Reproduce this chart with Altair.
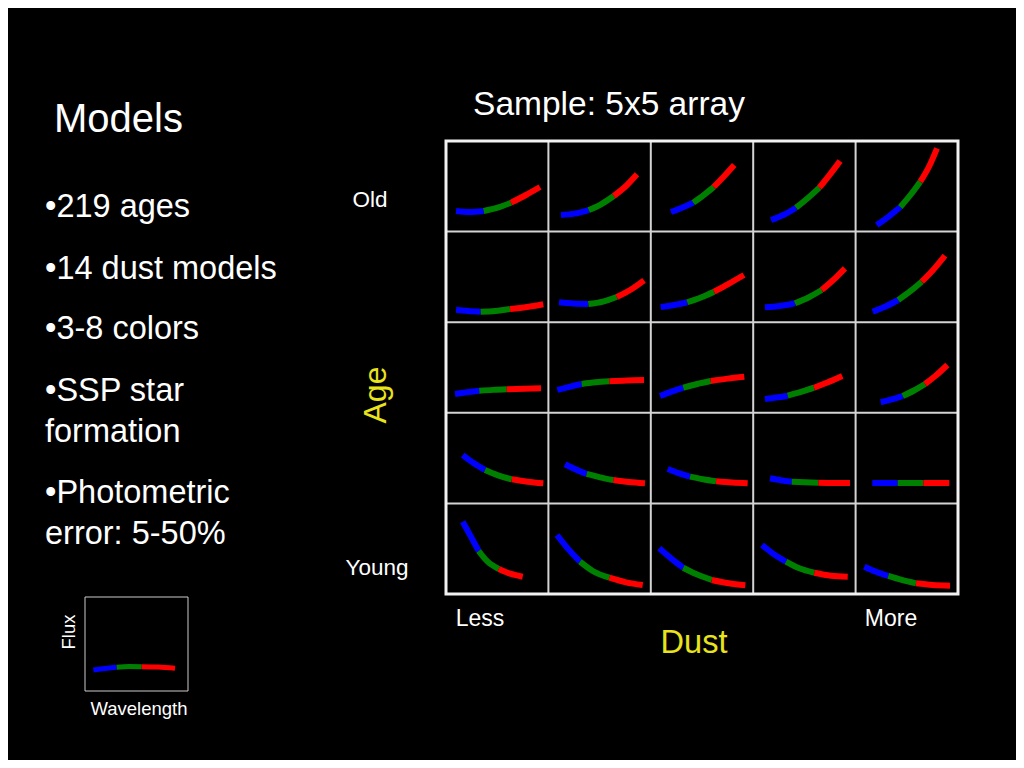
import altair as alt
import pandas as pd

# ---------------- data ----------------
age_labels = ["Old", "Young"]
dust_labels = ["Less", "More"]
bands = ["blue", "green", "red"]
band_colors = ["#0000ff", "#008000", "#ff0000"]
band_points = [[0, 1, 2], [2, 3, 4], [4, 5, 6]]

title_text = "Models"
sample_text = "Sample: 5x5 array"
bullet_lines = ["•219 ages", "•14 dust models", "•3-8 colors", "•SSP star", "formation",
                "•Photometric", "error: 5-50%"]

# wavelength (0-1 across a cell) and flux (0-1 up a cell), 7 samples per curve
wave_old = [
    [0.098, 0.228, 0.368, 0.505, 0.635, 0.781, 0.918],
    [0.123, 0.253, 0.394, 0.514, 0.638, 0.758, 0.865],
    [0.197, 0.305, 0.415, 0.513, 0.614, 0.718, 0.815],
    [0.174, 0.294, 0.418, 0.532, 0.646, 0.750, 0.848],
    [0.206, 0.329, 0.437, 0.541, 0.632, 0.720, 0.795],
]
flux_old = [
    [0.227, 0.216, 0.227, 0.264, 0.319, 0.404, 0.492],
    [0.183, 0.198, 0.238, 0.301, 0.393, 0.503, 0.632],
    [0.216, 0.264, 0.319, 0.401, 0.492, 0.614, 0.735],
    [0.128, 0.183, 0.264, 0.368, 0.485, 0.632, 0.779],
    [0.073, 0.172, 0.272, 0.412, 0.551, 0.724, 0.919],
]
wave_age2 = [
    [0.098, 0.215, 0.339, 0.479, 0.625, 0.791, 0.950],
    [0.104, 0.245, 0.390, 0.533, 0.667, 0.807, 0.934],
    [0.097, 0.227, 0.356, 0.490, 0.617, 0.764, 0.910],
    [0.115, 0.262, 0.408, 0.540, 0.669, 0.784, 0.896],
    [0.167, 0.292, 0.417, 0.531, 0.646, 0.761, 0.873],
]
flux_age2 = [
    [0.138, 0.124, 0.116, 0.124, 0.146, 0.168, 0.198],
    [0.220, 0.206, 0.201, 0.228, 0.278, 0.361, 0.462],
    [0.168, 0.190, 0.220, 0.273, 0.337, 0.427, 0.521],
    [0.164, 0.179, 0.209, 0.273, 0.355, 0.468, 0.595],
    [0.116, 0.173, 0.245, 0.339, 0.447, 0.582, 0.734],
]
wave_age3 = [
    [0.088, 0.205, 0.325, 0.459, 0.593, 0.762, 0.928],
    [0.087, 0.206, 0.325, 0.460, 0.595, 0.763, 0.934],
    [0.090, 0.202, 0.317, 0.451, 0.585, 0.749, 0.913],
    [0.115, 0.226, 0.337, 0.467, 0.594, 0.730, 0.870],
    [0.245, 0.353, 0.460, 0.570, 0.678, 0.790, 0.896],
]
flux_age3 = [
    [0.208, 0.227, 0.244, 0.253, 0.259, 0.266, 0.270],
    [0.252, 0.287, 0.318, 0.336, 0.348, 0.357, 0.362],
    [0.185, 0.233, 0.277, 0.318, 0.351, 0.377, 0.398],
    [0.152, 0.168, 0.189, 0.230, 0.277, 0.337, 0.406],
    [0.116, 0.147, 0.185, 0.246, 0.318, 0.417, 0.528],
]
wave_age4 = [
    [0.163, 0.269, 0.381, 0.508, 0.642, 0.796, 0.950],
    [0.162, 0.268, 0.374, 0.504, 0.634, 0.787, 0.943],
    [0.165, 0.273, 0.383, 0.510, 0.637, 0.793, 0.946],
    [0.164, 0.270, 0.376, 0.506, 0.636, 0.789, 0.945],
    [0.163, 0.287, 0.411, 0.536, 0.661, 0.788, 0.915],
]
flux_age4 = [
    [0.534, 0.446, 0.369, 0.310, 0.266, 0.240, 0.222],
    [0.432, 0.374, 0.325, 0.288, 0.258, 0.236, 0.222],
    [0.380, 0.334, 0.295, 0.266, 0.244, 0.231, 0.222],
    [0.277, 0.256, 0.240, 0.233, 0.228, 0.225, 0.225],
    [0.225, 0.225, 0.225, 0.225, 0.225, 0.225, 0.225],
]
wave_young = [
    [0.163, 0.244, 0.319, 0.407, 0.515, 0.635, 0.749],
    [0.084, 0.188, 0.309, 0.433, 0.595, 0.758, 0.921],
    [0.083, 0.197, 0.317, 0.448, 0.595, 0.761, 0.923],
    [0.086, 0.190, 0.320, 0.450, 0.597, 0.760, 0.923],
    [0.085, 0.199, 0.319, 0.450, 0.590, 0.753, 0.922],
]
flux_young = [
    [0.798, 0.632, 0.475, 0.357, 0.276, 0.221, 0.191],
    [0.651, 0.504, 0.357, 0.254, 0.180, 0.129, 0.099],
    [0.504, 0.394, 0.290, 0.217, 0.155, 0.118, 0.096],
    [0.541, 0.449, 0.357, 0.284, 0.235, 0.202, 0.191],
    [0.301, 0.246, 0.199, 0.155, 0.118, 0.099, 0.092],
]
legend_wave = [0.081, 0.194, 0.308, 0.427, 0.550, 0.709, 0.874]
legend_flux = [0.223, 0.239, 0.252, 0.261, 0.259, 0.255, 0.241]

grid_inner = [1, 2, 3, 4]

# ---------------- build tables ----------------
wave_rows = [wave_old, wave_age2, wave_age3, wave_age4, wave_young]
flux_rows = [flux_old, flux_age2, flux_age3, flux_age4, flux_young]

recs = []
for r in range(5):
    for c in range(5):
        w = wave_rows[r][c]
        f = flux_rows[r][c]
        for b, idxs in zip(bands, band_points):
            for i in idxs:
                recs.append({"series": f"{r}-{c}-{b}", "band": b, "i": i,
                             "wl": c + w[i], "flux": (4 - r) + f[i]})
curves = pd.DataFrame(recs)

lrecs = []
for b, idxs in zip(bands, band_points):
    for i in idxs:
        lrecs.append({"series": b, "band": b, "i": i, "wl": legend_wave[i], "flux": legend_flux[i]})
legend_curve = pd.DataFrame(lrecs)

vlines = pd.DataFrame({"pos": grid_inner, "lo": 0, "hi": 5})
frame = pd.DataFrame({"x0": [0], "x1": [5], "y0": [0], "y1": [5]})
lframe = pd.DataFrame({"x0": [0], "x1": [1], "y0": [0], "y1": [1]})

# ---------------- scales ----------------
M = 8  # page margin
gx = alt.Scale(domain=[0, 5], range=[446 - M, 958 - M], nice=False, zero=False)
gy = alt.Scale(domain=[0, 5], range=[594 - M, 141 - M], nice=False, zero=False)
lx = alt.Scale(domain=[0, 1], range=[85 - M, 188 - M], nice=False, zero=False)
ly = alt.Scale(domain=[0, 1], range=[691 - M, 597 - M], nice=False, zero=False)
cscale = alt.Scale(domain=bands, range=band_colors)

FONT = "Liberation Sans"
WHITE = "#ffffff"
YELLOW = "#e8e31c"

inner_v = alt.Chart(vlines).mark_rule(color="#d4d4d4", strokeWidth=2).encode(
    x=alt.X("pos:Q", scale=gx, axis=None),
    y=alt.Y("lo:Q", scale=gy, axis=None),
    y2="hi:Q",
)
inner_h = alt.Chart(vlines).mark_rule(color="#d4d4d4", strokeWidth=2).encode(
    y=alt.Y("pos:Q", scale=gy, axis=None),
    x=alt.X("lo:Q", scale=gx, axis=None),
    x2="hi:Q",
)
outer = alt.Chart(frame).mark_rect(fill=None, stroke="#f2f2f2", strokeWidth=3).encode(
    x=alt.X("x0:Q", scale=gx, axis=None), x2="x1:Q",
    y=alt.Y("y0:Q", scale=gy, axis=None), y2="y1:Q",
)
lines = alt.Chart(curves).mark_line(strokeWidth=6, strokeCap="butt", interpolate="monotone").encode(
    x=alt.X("wl:Q", scale=gx, axis=None),
    y=alt.Y("flux:Q", scale=gy, axis=None),
    detail="series:N",
    order="i:Q",
    color=alt.Color("band:N", scale=cscale, legend=None),
)

lbox = alt.Chart(lframe).mark_rect(fill=None, stroke="#cccccc", strokeWidth=1).encode(
    x=alt.X("x0:Q", scale=lx, axis=None), x2="x1:Q",
    y=alt.Y("y0:Q", scale=ly, axis=None), y2="y1:Q",
)
llines = alt.Chart(legend_curve).mark_line(strokeWidth=5, strokeCap="butt", interpolate="monotone").encode(
    x=alt.X("wl:Q", scale=lx, axis=None),
    y=alt.Y("flux:Q", scale=ly, axis=None),
    detail="series:N",
    order="i:Q",
    color=alt.Color("band:N", scale=cscale, legend=None),
)


def label(txt, x, y, size, color=WHITE, align="center", angle=0):
    kw = dict(font=FONT, fontSize=size, color=color, align=align, baseline="alphabetic")
    if angle:
        kw["angle"] = angle
    return alt.Chart(pd.DataFrame({"t": [txt]})).mark_text(**kw).encode(
        text="t:N", x=alt.value(x - M), y=alt.value(y - M)
    )


texts = [
    label(title_text, 54, 132, 40, align="left"),
    label(sample_text, 609, 115, 33.5),
    label(age_labels[0], 370, 207, 22.5),
    label(age_labels[1], 377, 575, 22.5),
    label("Age", 386, 395, 32, color=YELLOW, angle=270),
    label(dust_labels[0], 480, 626, 23),
    label(dust_labels[1], 891, 626, 23),
    label("Dust", 694, 653, 32.5, color=YELLOW),
    label("Flux", 75, 632, 18.5, angle=270),
    label("Wavelength", 139, 715, 18.5),
]
bullet_y = [217, 279, 339, 401, 442, 503, 544]
for t, yy in zip(bullet_lines, bullet_y):
    texts.append(label(t, 45, yy, 32.5, align="left"))

chart = alt.layer(inner_v, inner_h, outer, lines, lbox, llines, *texts).resolve_scale(
    x="independent", y="independent"
).properties(
    width=1008, height=752, padding=0, autosize="none", background="#000000"
).configure_view(stroke=None)

chart.save("out.html", embed_options={"renderer": "svg", "actions": False})
